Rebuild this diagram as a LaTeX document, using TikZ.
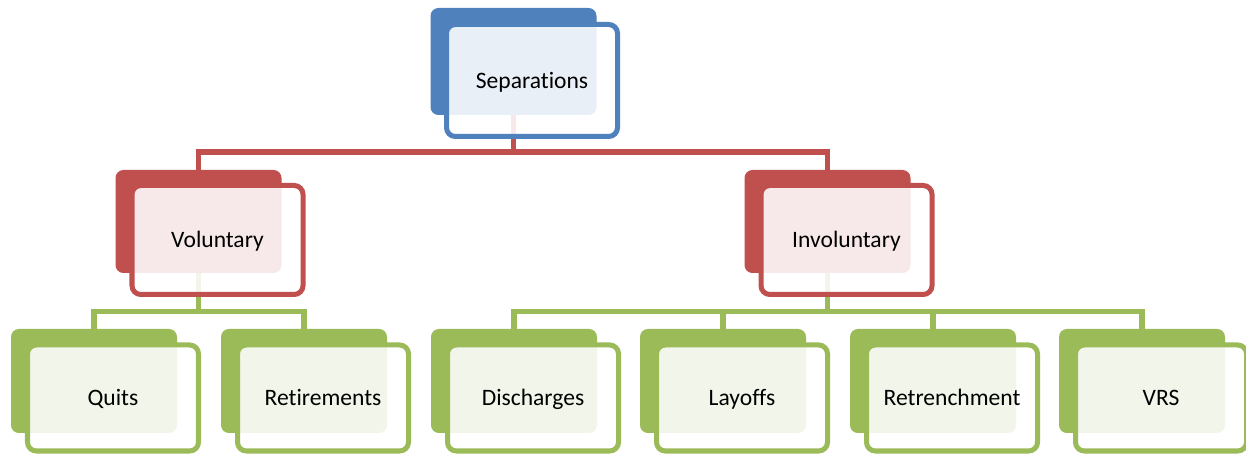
\documentclass[tikz,border=0pt]{standalone}
\usepackage{fontspec}
\setmainfont[Ligatures=NoCommon, RawFeature={-liga;-calt}]{Carlito}
\usetikzlibrary{positioning, backgrounds}
\definecolor{sepBlue}{RGB}{79,129,189}
\definecolor{typeRed}{RGB}{192,80,77}
\definecolor{kindGreen}{RGB}{155,187,89}
\tikzset{
    backbox/.style={
        rounded corners=4.5pt, inner sep=0pt,
        minimum width=3.32cm, minimum height=2.08cm
    },
    frontbox/.style={
        rounded corners=5pt, line width=2.85pt, fill=white,
        fill opacity=0.88, text opacity=1, inner sep=0pt,
        minimum width=3.42cm, minimum height=2.12cm,
        text height=10.6pt, text depth=2pt,
        font=\fontsize{13.4}{16}\selectfont
    },
    lin/.style={line width=3.2pt}
}

\begin{document}
\begin{tikzpicture}
      \useasboundingbox (0,0) rectangle (24.92,9.10);
      % top
      \node[backbox, fill=sepBlue, minimum height=2.14cm] (Sb) at (10.27,7.87) {};
      \node[frontbox, draw=sepBlue, minimum height=2.24cm] (S) at (10.64,7.49) {Separations};
      % second row
      \node[backbox, fill=typeRed, minimum height=2.06cm] (Vb) at (3.97,4.67) {};
      \node[frontbox, draw=typeRed, minimum height=2.18cm] (V) at (4.35,4.30) {Voluntary};
      \node[backbox, fill=typeRed, minimum height=2.06cm] (Ib) at (16.55,4.67) {};
      \node[frontbox, draw=typeRed, minimum height=2.18cm] (I) at (16.93,4.30) {Involuntary};
      % third row
      \node[backbox, fill=kindGreen] (C1b) at (1.88,1.48) {};
      \node[frontbox, draw=kindGreen] (C1) at (2.26,1.14) {Quits};
      \node[backbox, fill=kindGreen] (C2b) at (6.08,1.48) {};
      \node[frontbox, draw=kindGreen] (C2) at (6.46,1.14) {Retirements};
      \node[backbox, fill=kindGreen] (C3b) at (10.28,1.48) {};
      \node[frontbox, draw=kindGreen] (C3) at (10.66,1.14) {Discharges};
      \node[backbox, fill=kindGreen] (C4b) at (14.46,1.48) {};
      \node[frontbox, draw=kindGreen] (C4) at (14.84,1.14) {Layoffs};
      \node[backbox, fill=kindGreen] (C5b) at (18.66,1.48) {};
      \node[frontbox, draw=kindGreen] (C5) at (19.04,1.14) {Retrenchment};
      \node[backbox, fill=kindGreen] (C6b) at (22.84,1.48) {};
      \node[frontbox, draw=kindGreen] (C6) at (23.22,1.14) {VRS};
      % connectors
      \coordinate (J0) at (10.27,6.06);
      \coordinate (J1) at (3.97,2.87);
      \coordinate (J2) at (16.55,2.87);
      \begin{scope}[on background layer]
        \draw[lin, typeRed] (Sb.south) -- (J0) -| (Vb.north);
        \draw[lin, typeRed] (J0) -| (Ib.north);
        \draw[lin, kindGreen] (Vb.south) -- (J1) -| (C1b.north);
        \draw[lin, kindGreen] (J1) -| (C2b.north);
        \draw[lin, kindGreen] (Ib.south) -- (J2) -| (C3b.north);
        \draw[lin, kindGreen] (J2) -| (C4b.north);
        \draw[lin, kindGreen] (J2) -| (C5b.north);
        \draw[lin, kindGreen] (J2) -| (C6b.north);
      \end{scope}
    \end{tikzpicture}
\end{document}
